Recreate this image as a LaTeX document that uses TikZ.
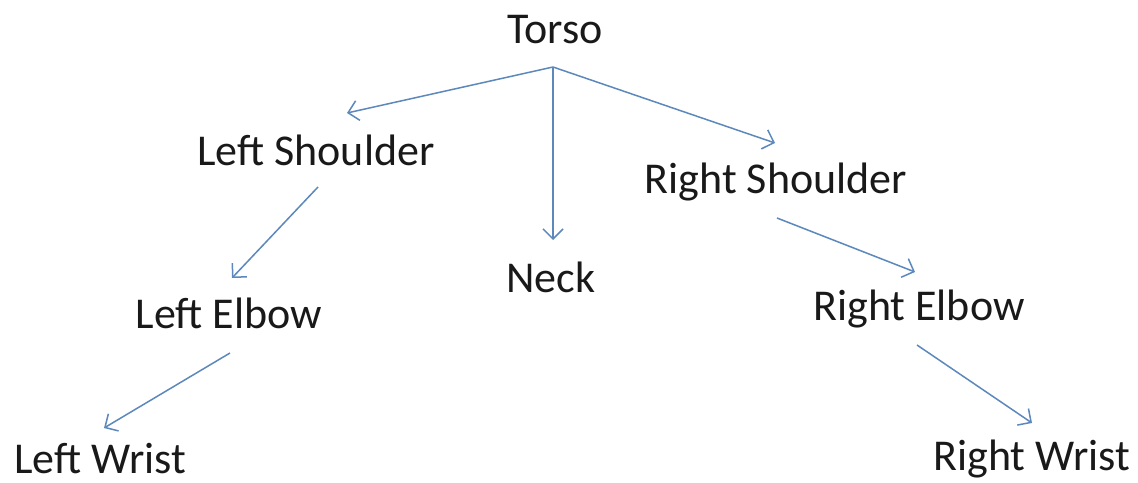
\documentclass[tikz,border=0pt]{standalone}
\usepackage{fontspec}
\setmainfont{Carlito}
\usetikzlibrary{arrows.meta,calc}
\definecolor{linkblue}{RGB}{92,136,188}
\tikzset{
  lbl/.style={anchor=base, inner sep=0pt, font=\fontsize{44}{52}\selectfont, text=black!90},
  link/.style={draw=linkblue, line width=1.5pt, -{Straight Barb[length=10pt,width=20pt,line width=1.5pt]}}
}
\begin{document}
\begin{tikzpicture}[x=1pt,y=-1pt]
\useasboundingbox[fill=white] (0,0) rectangle (1138,482);
\node[lbl] (torso) at (555,43) {Torso};
\node[lbl] (ls) at (316,165) {Left Shoulder};
\node[lbl] (rs) at (776,193) {Right Shoulder};
\node[lbl] (neck) at (551,292) {Neck};
\node[lbl] (le) at (229,328) {Left Elbow};
\node[lbl] (re) at (919,320) {Right Elbow};
\node[lbl] (lw) at (100,473) {Left Wrist};
\node[lbl] (rw) at (1032,470) {Right Wrist};
\draw[link] ($(torso.base)+(-2,24)$) -- ($(ls.base)+(31,-52)$);
\draw[link] ($(torso.base)+(-2,24)$) -- ($(neck.base)+(2,-52)$);
\draw[link] ($(torso.base)+(-2,24)$) -- ($(rs.base)+(-1,-50)$);
\draw[link] ($(ls.base)+(2,22)$) -- ($(le.base)+(3,-50)$);
\draw[link] ($(le.base)+(1,25)$) -- ($(lw.base)+(4,-45)$);
\draw[link] ($(rs.base)+(1,25)$) -- ($(re.base)+(-4,-48)$);
\draw[link] ($(re.base)+(-2,25)$) -- ($(rw.base)+(0,-47)$);
\end{tikzpicture}
\end{document}
